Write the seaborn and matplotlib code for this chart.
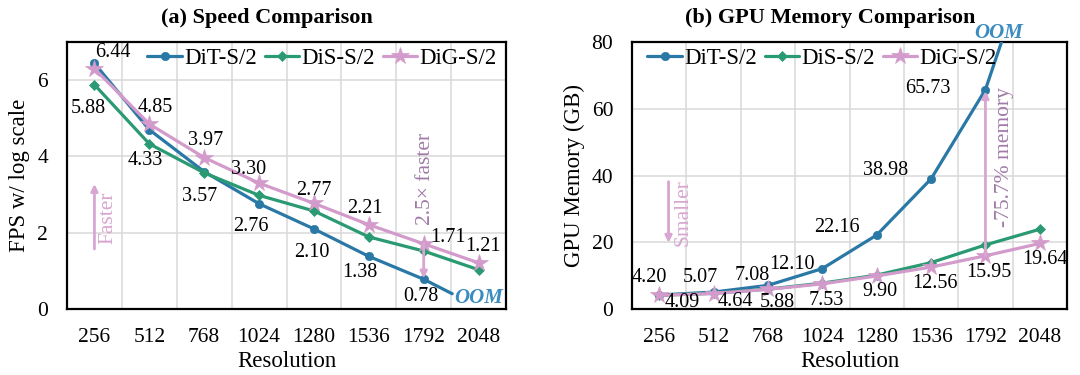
import matplotlib
matplotlib.use("Agg")
import matplotlib.pyplot as plt
import seaborn as sns
import pandas as pd

# ---------------- data ----------------
resolutions = [256, 512, 768, 1024, 1280, 1536, 1792, 2048]
res_labels = ["256", "512", "768", "1024", "1280", "1536", "1792", "2048"]
models = ["DiT-S/2", "DiS-S/2", "DiG-S/2"]

fps_dit = [6.44, 4.70, 3.60, 2.76, 2.10, 1.38, 0.78]          # OOM at 2048
fps_dis = [5.88, 4.33, 3.57, 2.98, 2.57, 1.89, 1.52, 1.03]
fps_dig = [6.30, 4.85, 3.97, 3.30, 2.77, 2.21, 1.71, 1.21]
fps_dit_oom_x = [1792, 1925]
fps_dit_oom_y = [0.78, 0.40]

mem_dit = [4.20, 5.07, 7.08, 12.10, 22.16, 38.98, 65.73]       # OOM at 2048
mem_dis = [4.12, 4.70, 5.95, 7.75, 10.15, 13.90, 19.20, 23.90]
mem_dig = [4.09, 4.64, 5.88, 7.53, 9.90, 12.56, 15.95, 19.64]
mem_dit_oom_x = [1792, 1894]
mem_dit_oom_y = [65.73, 85.0]

# value labels: (series, index, text)
fps_labels = [
    ("DiT", 0, "6.44"), ("DiS", 0, "5.88"), ("DiG", 1, "4.85"), ("DiS", 1, "4.33"),
    ("DiG", 2, "3.97"), ("DiS", 2, "3.57"), ("DiG", 3, "3.30"), ("DiT", 3, "2.76"),
    ("DiG", 4, "2.77"), ("DiT", 4, "2.10"), ("DiG", 5, "2.21"), ("DiT", 5, "1.38"),
    ("DiG", 6, "1.71"), ("DiT", 6, "0.78"), ("DiG", 7, "1.21"),
]
mem_labels = [
    ("DiT", 0, "4.20"), ("DiG", 0, "4.09"), ("DiT", 1, "5.07"), ("DiG", 1, "4.64"),
    ("DiT", 2, "7.08"), ("DiG", 2, "5.88"), ("DiT", 3, "12.10"), ("DiG", 3, "7.53"),
    ("DiT", 4, "22.16"), ("DiG", 4, "9.90"), ("DiT", 5, "38.98"), ("DiG", 5, "12.56"),
    ("DiT", 6, "65.73"), ("DiG", 6, "15.95"), ("DiG", 7, "19.64"),
]
# label offsets in pixels (layout only)
fps_offsets = [(18, 11), (-6, -24), (6, 17), (-4, -17), (1, 17), (-5, -24), (-10, 14),
               (-8, -23), (0, 13), (-2, -24), (-4, 16), (-9, -16), (24, 6), (-3, -17), (4, 16)]
mem_offsets = [(-10, 17), (23, -7), (-13, 15), (22, -8), (-16, 10), (9, -13), (-30, 4),
               (4, -17), (-40, 8), (3, -16), (-46, 8), (4, -16), (-58, 1), (3, -17), (5, -16)]

# ---------------- style ----------------
sns.set_style("white")
plt.rcParams["font.family"] = ["Liberation Serif", "DejaVu Serif"]
plt.rcParams["text.color"] = "black"
plt.rcParams["axes.labelcolor"] = "black"
plt.rcParams["xtick.color"] = "black"
plt.rcParams["ytick.color"] = "black"

C_DIT = "#2a78a6"
C_DIS = "#2a9a72"
C_DIG = "#d39bcb"
C_OOM = "#3a8cc0"
C_NOTE_LIGHT = "#d8a6d0"
C_NOTE_DARK = "#a07aa7"
GRID = "#d9d9d9"

fig = plt.figure(figsize=(10.8, 3.75), dpi=100)
ax1 = fig.add_axes([67 / 1080, 66 / 375, 439 / 1080, 267 / 375])
ax2 = fig.add_axes([632 / 1080, 66 / 375, 435 / 1080, 267 / 375])

styles = {
    "DiT": dict(color=C_DIT, marker="o", markersize=6),
    "DiS": dict(color=C_DIS, marker="D", markersize=5.5),
    "DiG": dict(color=C_DIG, marker="*", markersize=13),
}


def draw(ax, dit, dis, dig, oom_x, oom_y):
    series = {"DiT": dit, "DiS": dis, "DiG": dig}
    for key, name in zip(["DiT", "DiS", "DiG"], models):
        vals = series[key]
        df = pd.DataFrame({"res": resolutions[: len(vals)], "val": vals})
        st = styles[key]
        sns.lineplot(data=df, x="res", y="val", ax=ax, color=st["color"], marker=st["marker"],
                     markersize=st["markersize"], markeredgecolor=st["color"],
                     markeredgewidth=0.5, linewidth=2.3, label=name, zorder=3)
        if key == "DiT":
            dfo = pd.DataFrame({"res": oom_x, "val": oom_y})
            sns.lineplot(data=dfo, x="res", y="val", ax=ax, color=st["color"],
                         linewidth=2.3, legend=False, zorder=3)
    return series


def frame(ax, ylim, yticks, ylabel, title):
    ax.set_xlim(128, 2176)
    ax.set_ylim(*ylim)
    ax.set_xticks(resolutions, res_labels)
    ax.set_xticks([r + 128 for r in resolutions[:-1]], minor=True)
    ax.set_yticks(yticks)
    ax.grid(which="minor", axis="x", color=GRID, lw=1.1)
    ax.grid(which="major", axis="y", color=GRID, lw=1.1)
    ax.grid(which="major", axis="x", visible=False)
    ax.set_axisbelow(True)
    ax.tick_params(axis="both", which="both", length=0, labelsize=15.5, pad=13.5, colors="black")
    for s in ax.spines.values():
        s.set_color("black")
        s.set_linewidth(1.6)
        s.set_visible(True)
    ax.set_xlabel("Resolution", fontsize=16.5, labelpad=3, color="black")
    ax.set_ylabel(ylabel, fontsize=16.5, labelpad=5, color="black")
    ax.set_title(title, fontsize=16, fontweight="bold", x=0.456, pad=14, color="black")


def put_labels(ax, series, labels, offsets):
    for (key, i, txt), (dx, dy) in zip(labels, offsets):
        ax.annotate(txt, (resolutions[i], series[key][i]), xytext=(dx, dy),
                    textcoords="offset pixels", ha="center", va="center",
                    fontsize=14.5, color="black", zorder=5, annotation_clip=False)


def legend(ax, loc, anchor):
    ax.legend(ncol=3, loc=loc, bbox_to_anchor=anchor, frameon=False,
              fontsize=16.5, handlelength=1.5, handletextpad=0.1, columnspacing=0.35,
              borderaxespad=0.0, borderpad=0.2, labelcolor="black")


# ---------------- (a) speed ----------------
s1 = draw(ax1, fps_dit, fps_dis, fps_dig, fps_dit_oom_x, fps_dit_oom_y)
frame(ax1, (0, 7), [0, 2, 4, 6], "FPS w/ log scale", "(a) Speed Comparison")
put_labels(ax1, s1, fps_labels, fps_offsets)
ax1.text(2048, 0.30, "OOM", color=C_OOM, fontsize=15, fontweight="bold", style="italic",
         ha="center", va="center", zorder=6)
ax1.annotate("", xy=(256, 3.35), xytext=(256, 1.5),
             arrowprops=dict(arrowstyle="-|>", color=C_NOTE_LIGHT, lw=2, mutation_scale=10))
ax1.text(318, 2.4, "Faster", rotation=90, color=C_NOTE_LIGHT, fontsize=15.5,
         ha="center", va="center")
ax1.annotate("", xy=(1792, 0.80), xytext=(1792, 1.71),
             arrowprops=dict(arrowstyle="-|>", color=C_NOTE_LIGHT, lw=2, mutation_scale=10,
                             shrinkA=0, shrinkB=0), zorder=4)
ax1.text(1800, 3.40, "2.5× faster", rotation=90, color=C_NOTE_DARK, fontsize=15.5,
         ha="center", va="center")
legend(ax1, "upper right", (0.99, 0.995))

# ---------------- (b) memory ----------------
s2 = draw(ax2, mem_dit, mem_dis, mem_dig, mem_dit_oom_x, mem_dit_oom_y)
frame(ax2, (0, 80), [0, 20, 40, 60, 80], "GPU Memory (GB)", "(b) GPU Memory Comparison")
put_labels(ax2, s2, mem_labels, mem_offsets)
ax2.text(1855, 82.7, "OOM", color=C_OOM, fontsize=15, fontweight="bold", style="italic",
         ha="center", va="center", zorder=6, clip_on=False)
ax2.annotate("", xy=(1792, 65.3), xytext=(1792, 15.95),
             arrowprops=dict(arrowstyle="-|>", color=C_NOTE_LIGHT, lw=2, mutation_scale=10,
                             shrinkA=0, shrinkB=0), zorder=4)
ax2.text(1880, 45.5, "-75.7% memory", rotation=90, color=C_NOTE_DARK, fontsize=15.5,
         ha="center", va="center")
ax2.annotate("", xy=(300, 19), xytext=(300, 39),
             arrowprops=dict(arrowstyle="-|>", color=C_NOTE_LIGHT, lw=2, mutation_scale=10))
ax2.text(370, 29, "Smaller", rotation=90, color=C_NOTE_LIGHT, fontsize=15.5,
         ha="center", va="center")
legend(ax2, "upper left", (0.025, 0.995))

fig.savefig("out.png", dpi=100)
